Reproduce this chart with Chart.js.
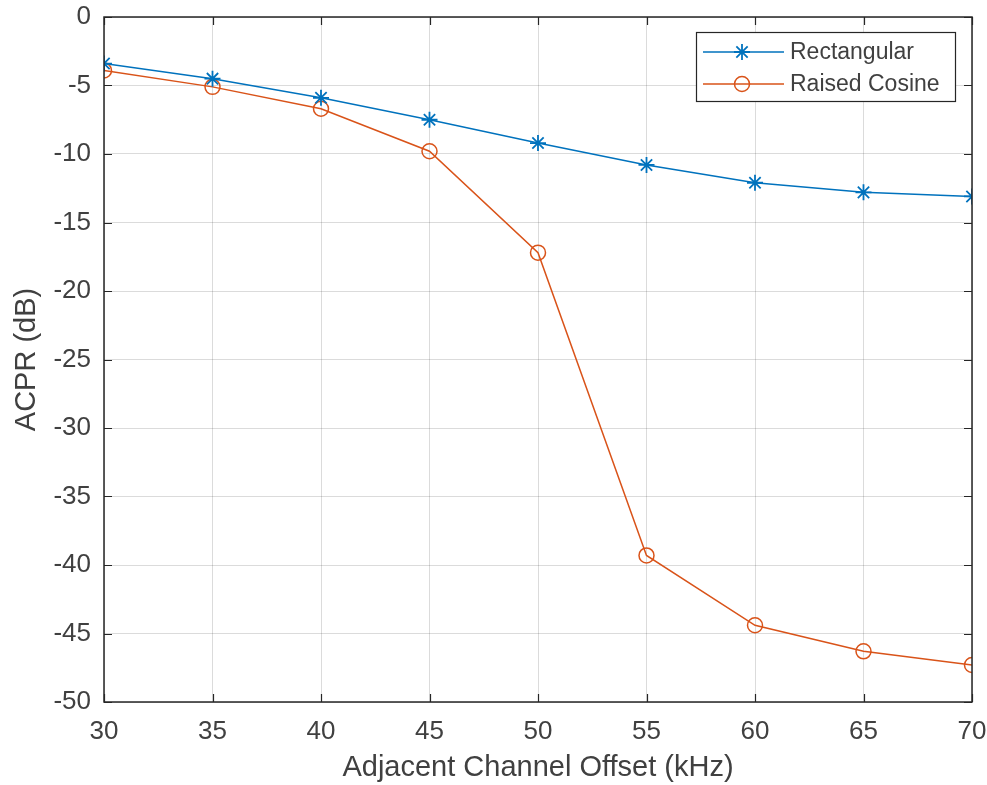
<!DOCTYPE html>
<html>
<head>
<meta charset="utf-8">
<script src="https://cdn.jsdelivr.net/npm/chart.js@4"></script>
<style>
  html, body { margin: 0; padding: 0; background: #fff; }
  #wrap { width: 987px; height: 785px; }
</style>
</head>
<body>
<div id="wrap"><canvas id="acprChart" width="987" height="785"></canvas></div>
<script>
// Dados
const offsets = [30, 35, 40, 45, 50, 55, 60, 65, 70];  // kHz
const rectangular = [-3.4, -4.5, -5.9, -7.5, -9.2, -10.8, -12.1, -12.8, -13.1];
const raisedCosine = [-3.9, -5.1, -6.7, -9.8, -17.2, -39.3, -44.4, -46.3, -47.3];
const seriesNames = ['Rectangular', 'Raised Cosine'];

const textColor = '#404040';
const axisColor = '#262626';
const fontFamily = '"Liberation Sans", Arial, Helvetica, sans-serif';

function toPoints(values) {
    return offsets.map((x, i) => ({ x: x, y: values[i] }));
}

// Caixa dos eixos com ticks para dentro (estilo MATLAB)
const boxPlugin = {
    id: 'matlabBox',
    afterDatasetsDraw(chart) {
        const { ctx, chartArea: a, scales } = chart;
        ctx.save();
        ctx.strokeStyle = axisColor;
        ctx.lineWidth = 1.5;
        ctx.strokeRect(a.left, a.top, a.right - a.left, a.bottom - a.top);
        ctx.lineWidth = 1.2;
        const len = 8;
        scales.x.ticks.forEach(t => {
            const px = Math.round(scales.x.getPixelForValue(t.value)) + 0.5;
            ctx.beginPath();
            ctx.moveTo(px, a.bottom); ctx.lineTo(px, a.bottom - len);
            ctx.moveTo(px, a.top); ctx.lineTo(px, a.top + len);
            ctx.stroke();
        });
        scales.y.ticks.forEach(t => {
            const py = Math.round(scales.y.getPixelForValue(t.value)) + 0.5;
            ctx.beginPath();
            ctx.moveTo(a.left, py); ctx.lineTo(a.left + len, py);
            ctx.moveTo(a.right, py); ctx.lineTo(a.right - len, py);
            ctx.stroke();
        });
        ctx.restore();
    }
};

// Legenda dentro da área do gráfico, canto superior direito
const legendPlugin = {
    id: 'insideLegend',
    afterDraw(chart) {
        const { ctx, chartArea: a } = chart;
        const boxW = 259, boxH = 69;
        const x0 = a.right - 276, y0 = a.top + 15;
        ctx.save();
        ctx.fillStyle = '#fff';
        ctx.fillRect(x0, y0, boxW, boxH);
        ctx.strokeStyle = axisColor;
        ctx.lineWidth = 1.2;
        ctx.strokeRect(x0 + 0.5, y0 + 0.5, boxW, boxH);
        ctx.font = '23px ' + fontFamily;
        ctx.textBaseline = 'middle';
        chart.data.datasets.forEach((ds, i) => {
            const cy = y0 + 20 + i * 32;
            ctx.strokeStyle = ds.borderColor;
            ctx.lineWidth = ds.borderWidth;
            ctx.beginPath();
            ctx.moveTo(x0 + 7, cy); ctx.lineTo(x0 + 88, cy);
            ctx.stroke();
            ctx.strokeStyle = ds.pointBorderColor;
            ctx.fillStyle = 'rgba(0,0,0,0)';
            ctx.lineWidth = ds.pointBorderWidth;
            Chart.helpers.drawPoint(ctx, {
                pointStyle: ds.pointStyle,
                radius: ds.pointRadius,
                borderWidth: ds.pointBorderWidth
            }, x0 + 46, cy);
            ctx.fillStyle = textColor;
            ctx.fillText(ds.label, x0 + 94, cy + 1);
        });
        ctx.restore();
    }
};

const ctx = document.getElementById('acprChart').getContext('2d');
const acprChart = new Chart(ctx, {
    type: 'line',
    data: {
        datasets: [{
            label: seriesNames[0],
            data: toPoints(rectangular),
            borderColor: '#0072BD',
            backgroundColor: '#0072BD',
            borderWidth: 1.5,
            pointStyle: 'star',
            pointRadius: 8,
            pointBorderWidth: 1.8,
            pointBorderColor: '#0072BD',
            pointBackgroundColor: 'transparent',
            tension: 0
        }, {
            label: seriesNames[1],
            data: toPoints(raisedCosine),
            borderColor: '#D95319',
            backgroundColor: 'transparent',
            borderWidth: 1.5,
            pointStyle: 'circle',
            pointRadius: 7.5,
            pointBorderWidth: 1.5,
            pointBorderColor: '#D95319',
            pointBackgroundColor: 'transparent',
            tension: 0
        }]
    },
    options: {
        responsive: false,
        animation: false,
        layout: { padding: { left: 0, top: 17, right: 15, bottom: 0 } },
        plugins: {
            legend: { display: false },
            tooltip: { enabled: false }
        },
        scales: {
            x: {
                type: 'linear',
                min: 30,
                max: 70,
                afterFit(scale) {
                    scale.height = 83;
                    scale.paddingLeft = 0;
                    scale.paddingRight = 0;
                },
                ticks: {
                    stepSize: 5,
                    color: textColor,
                    padding: 14,
                    font: { family: fontFamily, size: 26 }
                },
                grid: { color: 'rgba(0,0,0,0.14)', lineWidth: 1, drawTicks: false },
                border: { display: false },
                title: {
                    display: true,
                    text: 'Adjacent Channel Offset (kHz)',
                    color: textColor,
                    font: { family: fontFamily, size: 29 },
                    padding: { top: 0, bottom: 0 }
                }
            },
            y: {
                min: -50,
                max: 0,
                afterFit(scale) {
                    scale.width = 104;
                    scale.paddingTop = 0;
                    scale.paddingBottom = 0;
                },
                ticks: {
                    stepSize: 5,
                    color: textColor,
                    padding: 13,
                    font: { family: fontFamily, size: 26 }
                },
                grid: { color: 'rgba(0,0,0,0.14)', lineWidth: 1, drawTicks: false },
                border: { display: false },
                title: {
                    display: true,
                    text: 'ACPR (dB)',
                    color: textColor,
                    font: { family: fontFamily, size: 29 },
                    padding: { top: 10, bottom: 0 }
                }
            }
        }
    },
    plugins: [boxPlugin, legendPlugin]
});
</script>
</body>
</html>
